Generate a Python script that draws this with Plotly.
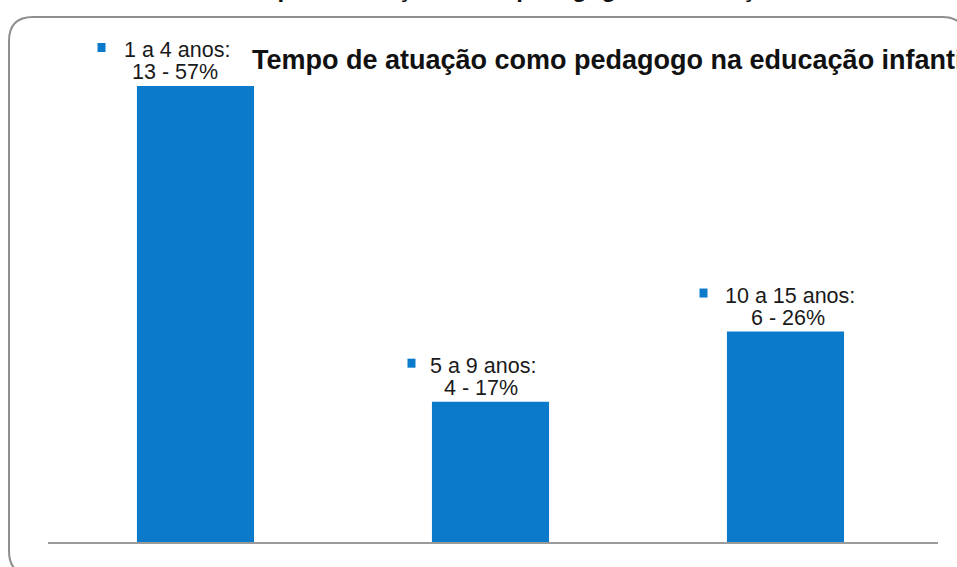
import plotly.graph_objects as go

# ---- data ----
categories = ["1 a 4 anos", "5 a 9 anos", "10 a 15 anos"]
counts = [13, 4, 6]
percents = [57, 17, 26]
title_text = "Tempo de atuação como pedagogo na educação infantil"

# ---- styling ----
bar_color = "#0b7acb"
label_dx = [-19, -7, 5]          # horizontal shift of each label (px)
square_dx = [-94, -79, -82]      # centre of legend square relative to bar centre (px)
label_font = dict(family="Liberation Sans, Arial", size=21.5, color="#1a1a1a")

xs = list(range(len(categories)))

fig = go.Figure()
fig.add_trace(go.Bar(
    x=xs, y=counts, width=0.397,
    marker=dict(color=bar_color, line=dict(width=0)),
    hoverinfo="skip",
))

annotations = []
shapes = []
for i, (cat, c, p) in enumerate(zip(categories, counts, percents)):
    annotations.append(dict(
        x=xs[i], y=c, xref="x", yref="y",
        text=f"{cat}:", showarrow=False, xanchor="center", yanchor="middle",
        xshift=label_dx[i], yshift=36, font=label_font,
    ))
    annotations.append(dict(
        x=xs[i], y=c, xref="x", yref="y",
        text=f"{c} - {p}%", showarrow=False, xanchor="center", yanchor="middle",
        xshift=label_dx[i] - 2, yshift=14, font=label_font,
    ))
    shapes.append(dict(
        type="rect", xref="x", yref="y",
        xsizemode="pixel", ysizemode="pixel",
        xanchor=xs[i], yanchor=c,
        x0=square_dx[i] - 4, x1=square_dx[i] + 4,
        y0=34, y1=43,
        fillcolor=bar_color, line=dict(width=0),
    ))

# main title (inside chart)
annotations.append(dict(
    x=(250 - 48) / 890, y=(542 - 60) / 512, xref="paper", yref="paper",
    text=title_text, showarrow=False, xanchor="left", yanchor="middle",
    font=dict(family="Liberation Sans, Arial", size=27, color="#111111", weight="bold"),
))
# cut-off title at very top of picture
annotations.append(dict(
    x=(228 - 48) / 890, y=1, xref="paper", yref="paper",
    text=title_text, showarrow=False, xanchor="left", yanchor="bottom",
    yshift=26,
    font=dict(family="Liberation Sans, Arial", size=24, color="#111111", weight="bold"),
))

# rounded frame (pixel offsets from plot's bottom-left corner)
L, R, T, B, r = -39, 918, 525, -33, 24
path = (f"M {L},{B + r} L {L},{T - r} Q {L},{T} {L + r},{T} "
        f"L {R - r},{T} Q {R},{T} {R},{T - r} L {R},{B + r} "
        f"Q {R},{B} {R - r},{B} L {L + r},{B} Q {L},{B} {L},{B + r} Z")
shapes.append(dict(
    type="path", xref="paper", yref="paper",
    xsizemode="pixel", ysizemode="pixel", xanchor=0, yanchor=0,
    path=path, line=dict(color="#8e8e8e", width=2), fillcolor="rgba(0,0,0,0)",
    layer="below",
))

fig.update_layout(
    width=957, height=567,
    margin=dict(l=48, r=19, t=30, b=25),
    paper_bgcolor="white", plot_bgcolor="white",
    showlegend=False,
    xaxis=dict(range=[-0.5, 2.517], showticklabels=False, ticks="",
               showgrid=False, zeroline=False, showline=True,
               linecolor="#9a9a9a", linewidth=2, fixedrange=True),
    yaxis=dict(range=[0, 14.596], visible=False, showgrid=False,
               zeroline=False, fixedrange=True),
    annotations=annotations,
    shapes=shapes,
)

fig.write_html("out.html", config={"displayModeBar": False},
               post_script="document.body.style.margin='0';")
